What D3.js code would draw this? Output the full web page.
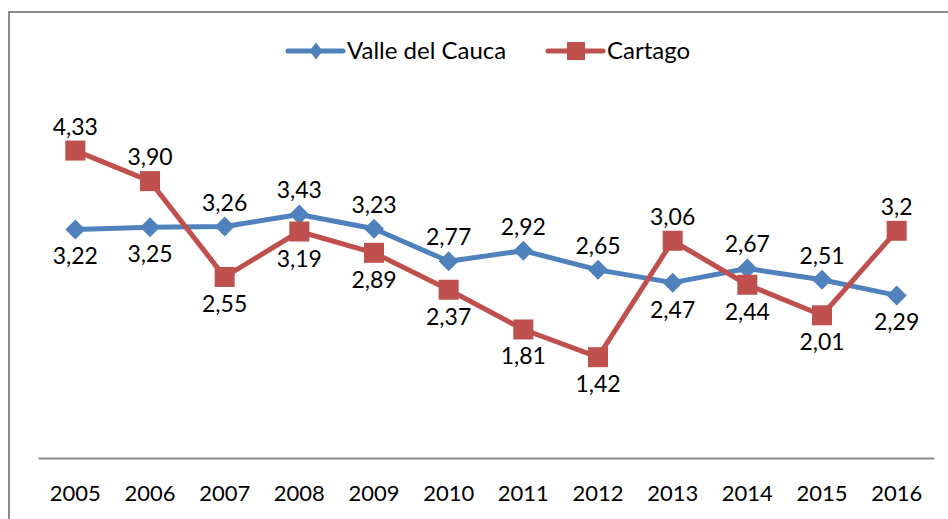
<!DOCTYPE html>
<html>
<head>
<meta charset="utf-8">
<script src="https://cdn.jsdelivr.net/npm/d3@7"></script>
<style>
  html, body { margin: 0; padding: 0; background: #fff; }
  svg { display: block; }
  text { font-family: Lato, "Open Sans", sans-serif; fill: #000; }
</style>
</head>
<body>
<svg id="chart" width="948" height="519"></svg>
<script>
// Years on the category axis
const years = ["2005", "2006", "2007", "2008", "2009", "2010", "2011", "2012", "2013", "2014", "2015", "2016"];

// Series values
const valleValues   = [3.22, 3.25, 3.26, 3.43, 3.23, 2.77, 2.92, 2.65, 2.47, 2.67, 2.51, 2.29];
const cartagoValues = [4.33, 3.90, 2.55, 3.19, 2.89, 2.37, 1.81, 1.42, 3.06, 2.44, 2.01, 3.2];

// Printed labels (as shown, comma decimal)
const valleLabels   = ["3,22", "3,25", "3,26", "3,43", "3,23", "2,77", "2,92", "2,65", "2,47", "2,67", "2,51", "2,29"];
const cartagoLabels = ["4,33", "3,90", "2,55", "3,19", "2,89", "2,37", "1,81", "1,42", "3,06", "2,44", "2,01", "3,2"];

// Label placement: 1 = above the point, -1 = below
const valleSide   = [-1, -1, 1, 1, 1, 1, 1, 1, -1, 1, 1, -1];
const cartagoSide = [1, 1, -1, -1, -1, -1, -1, -1, 1, -1, -1, 1];

const seriesNames = ["Valle del Cauca", "Cartago"];
const blue = "#4F81BD", red = "#C0504D";

const svg = d3.select("#chart");

// Outer chart frame (right and bottom edges fall outside the view)
svg.append("rect")
  .attr("x", 9).attr("y", 12)
  .attr("width", 960).attr("height", 540)
  .attr("fill", "none")
  .attr("stroke", "#8c8c8c")
  .attr("stroke-width", 2);

const x = d3.scaleBand().domain(years).range([38, 934]);
const y = d3.scaleLinear().domain([0, 5]).range([458, 103]);
const cx = d => x(d) + x.bandwidth() / 2;

// Category axis
const xAxis = d3.axisBottom(x).tickSize(0).tickPadding(0);
const gx = svg.append("g").attr("transform", "translate(0,458)").call(xAxis);
gx.select(".domain").attr("stroke", "#8c8c8c").attr("stroke-width", 2);
gx.selectAll(".tick text")
  .attr("font-size", 22)
  .attr("font-family", "Lato, sans-serif")
  .attr("fill", "#000")
  .attr("dy", 0)
  .attr("y", 43);

const line = d3.line().x((d, i) => cx(years[i])).y(d => y(d));

function drawSeries(values, color, shape, labels, sides) {
  const g = svg.append("g");
  g.append("path")
    .datum(values)
    .attr("fill", "none")
    .attr("stroke", color)
    .attr("stroke-width", 5)
    .attr("stroke-linejoin", "round")
    .attr("d", line);
  g.selectAll("path.mark")
    .data(values)
    .join("path")
    .attr("class", "mark")
    .attr("transform", (d, i) => `translate(${cx(years[i])},${y(d)})`)
    .attr("d", shape)
    .attr("fill", color);
  g.selectAll("text")
    .data(values)
    .join("text")
    .attr("x", (d, i) => cx(years[i]))
    .attr("y", (d, i) => y(d) + (sides[i] > 0 ? -16 : 35))
    .attr("text-anchor", "middle")
    .attr("font-size", 23)
    .text((d, i) => labels[i]);
}

const diamond = "M0,-10L10,0L0,10L-10,0Z";
const square = "M-10,-10H10V10H-10Z";

drawSeries(valleValues, blue, diamond, valleLabels, valleSide);
drawSeries(cartagoValues, red, square, cartagoLabels, cartagoSide);

// Legend
const legendItems = [
  { name: seriesNames[0], color: blue, shape: "M0,-8.5L6.5,0L0,8.5L-6.5,0Z", x0: 288 },
  { name: seriesNames[1], color: red, shape: "M-9,-9H9V9H-9Z", x0: 548 }
];
const lg = svg.append("g");
legendItems.forEach(it => {
  const g = lg.append("g").attr("transform", `translate(${it.x0},51)`);
  g.append("line").attr("x1", 0).attr("x2", 55).attr("y1", 0).attr("y2", 0)
    .attr("stroke", it.color).attr("stroke-width", 5).attr("stroke-linecap", "round");
  g.append("path").attr("transform", "translate(28,0)").attr("d", it.shape).attr("fill", it.color);
  g.append("text").attr("x", 59).attr("y", 8).attr("font-size", 24).text(it.name);
});
</script>
</body>
</html>
